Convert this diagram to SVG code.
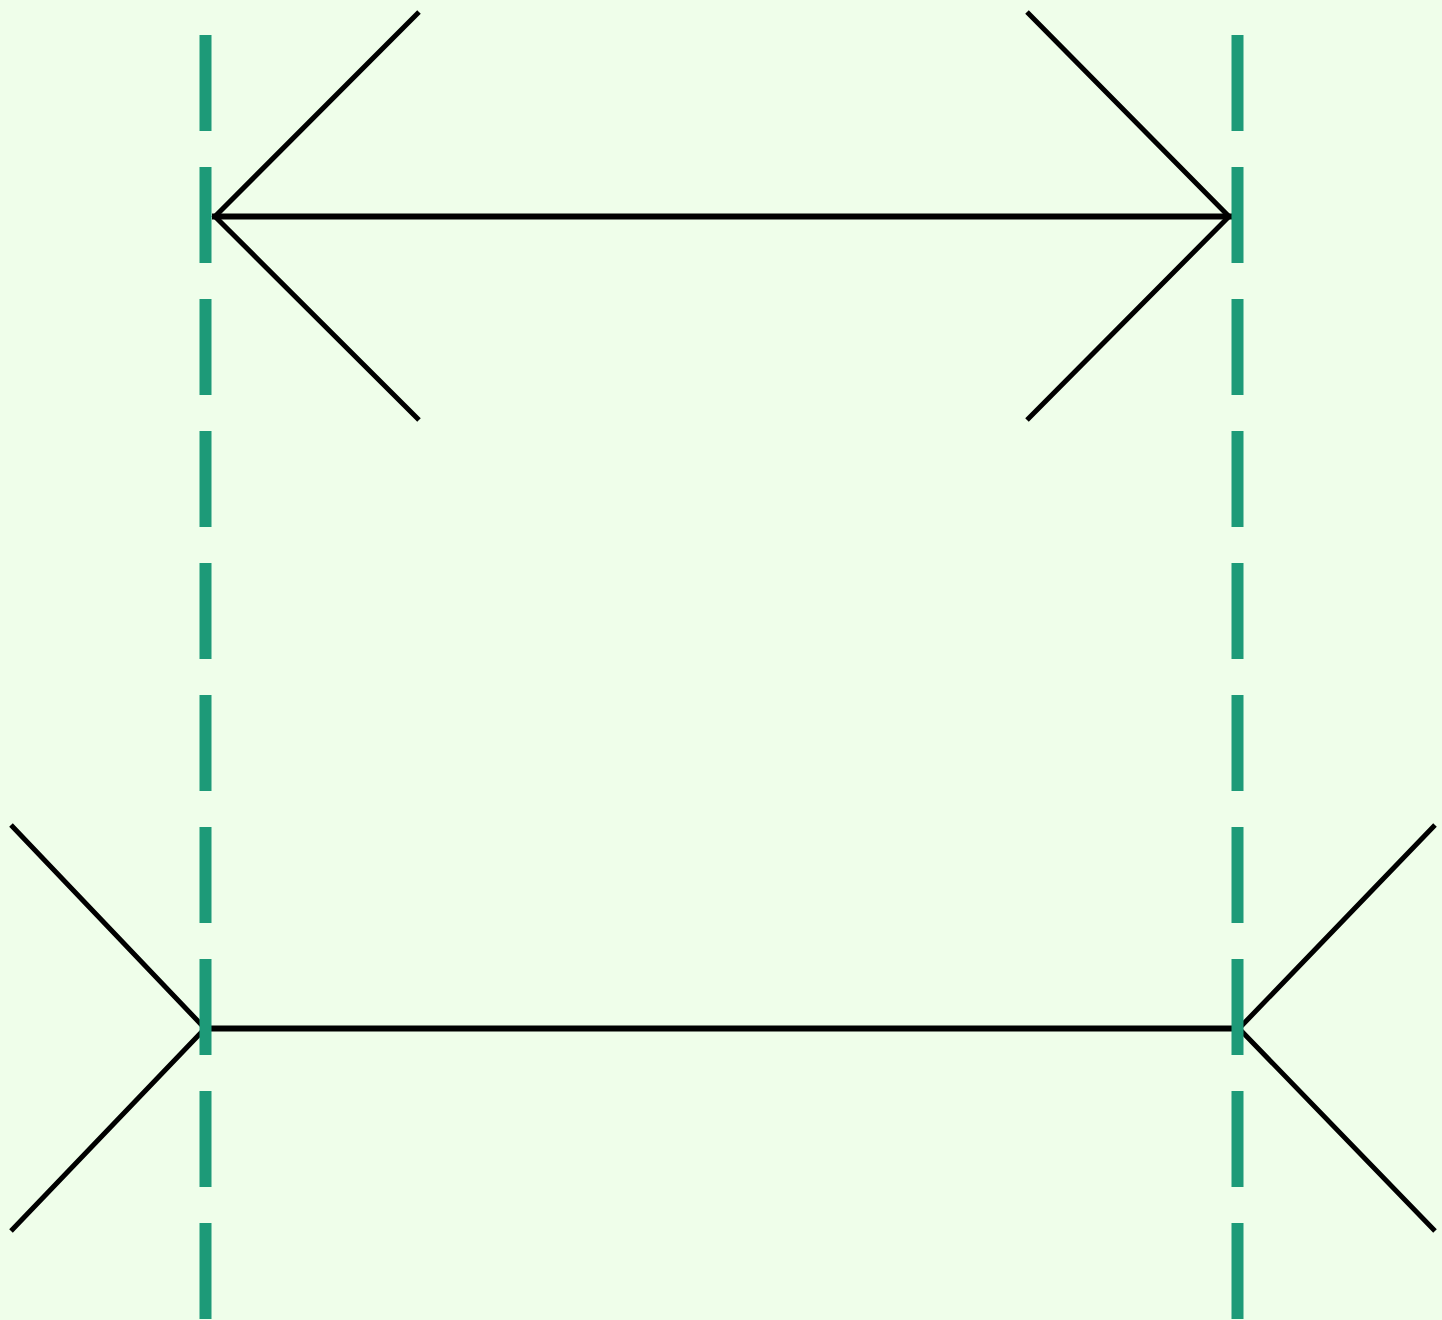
<svg xmlns="http://www.w3.org/2000/svg" width="1442" height="1320" viewBox="0 0 1442 1320">
<style>
.shaft{stroke:#000;stroke-width:6;fill:none}
.fin{stroke:#000;stroke-width:5;fill:none;stroke-linecap:butt}
.guide{stroke:#1d9a78;stroke-width:12;stroke-dasharray:96 36;fill:none}
</style>
<rect width="1442" height="1320" fill="#effeea"/>
<g id="connectors">
<g id="top-line">
<line class="shaft" x1="212" y1="216.5" x2="1232" y2="216.5"/>
<polyline class="fin" points="419,12 215,216.5 419,420"/>
<polyline class="fin" points="1027,12 1229,216.5 1027,420"/>
</g>
<g id="bottom-line">
<line class="shaft" x1="211" y1="1028.5" x2="1232" y2="1028.5"/>
<polyline class="fin" points="11,825 205,1028.5 11,1231"/>
<polyline class="fin" points="1435,825 1239,1028.5 1435,1231"/>
</g>
</g>
<g id="guides">
<line class="guide" x1="205.5" y1="35" x2="205.5" y2="1320"/>
<line class="guide" x1="1237.5" y1="35" x2="1237.5" y2="1320"/>
</g>
</svg>
